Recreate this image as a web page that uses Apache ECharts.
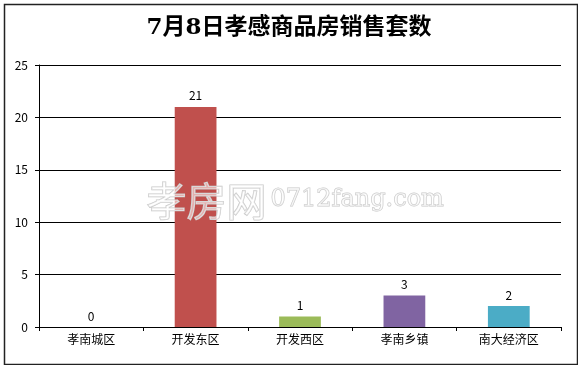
<!DOCTYPE html>
<html><head><meta charset="utf-8">
<script src="https://cdn.jsdelivr.net/npm/echarts@6/dist/echarts.min.js"></script>
<style>html,body{margin:0;padding:0;background:#fff}#c{width:578px;height:365px}</style>
</head><body><div id="c"></div>
<script>
const titleText = '7月8日孝感商品房销售套数';
const categories = ['孝南城区', '开发东区', '开发西区', '孝南乡镇', '南大经济区'];
const values = [0, 21, 1, 3, 2];
const barColors = ['#4F81BD', '#C0504D', '#9BBB59', '#8064A2', '#4BACC6'];
const yTicks = { min: 0, max: 25, interval: 5 };

const chart = echarts.init(document.getElementById('c'), null, { renderer: 'canvas' });
const font = '"Noto Sans CJK SC", "DejaVu Sans", sans-serif';
chart.setOption({
  animation: false,
  backgroundColor: '#fff',
  title: {
    text: titleText, left: 'center', top: 12,
    textStyle: { fontSize: 23, fontWeight: 'bold', color: '#000', fontFamily: '"DejaVu Serif", "Noto Sans CJK SC", serif' }
  },
  graphic: [
    { type: 'rect', left: 2, top: 2, shape: { width: 573, height: 360 }, style: { fill: 'none', stroke: '#222', lineWidth: 1.5 }, silent: true },
    { type: 'text', left: 146, top: 180, z: 100, style: { text: '孝房网', fontSize: 40, fontFamily: font, fill: 'rgba(255,255,255,0.55)', stroke: '#c8c8c8', lineWidth: 1.2 } },
    { type: 'text', left: 270, top: 187, z: 100, style: { text: '0712fang.com', fontSize: 24, fontFamily: '"DejaVu Serif", serif', fill: 'rgba(255,255,255,0.55)', stroke: '#c8c8c8', lineWidth: 1 } }
  ],
  grid: { left: 39, right: 17, top: 65, bottom: 38, containLabel: false },
  xAxis: {
    type: 'category', data: categories,
    axisLine: { lineStyle: { color: '#000', width: 1 } },
    axisTick: { show: true, length: 4, lineStyle: { color: '#000' } },
    axisLabel: { color: '#000', fontSize: 12, fontFamily: font, margin: 6 }
  },
  yAxis: {
    type: 'value', min: yTicks.min, max: yTicks.max, interval: yTicks.interval,
    axisLine: { show: true, lineStyle: { color: '#000', width: 1 } },
    axisTick: { show: true, length: 4, lineStyle: { color: '#000' } },
    axisLabel: { color: '#000', fontSize: 12, fontFamily: font, margin: 11 },
    splitLine: { show: true, lineStyle: { color: '#000', width: 1 } }
  },
  series: [{
    type: 'bar',
    data: values.map((v, i) => ({ value: v, itemStyle: { color: barColors[i] } })),
    barWidth: '40%',
    label: { show: true, position: 'top', color: '#000', fontSize: 12, fontFamily: font, distance: 5 }
  }]
});
</script></body></html>
